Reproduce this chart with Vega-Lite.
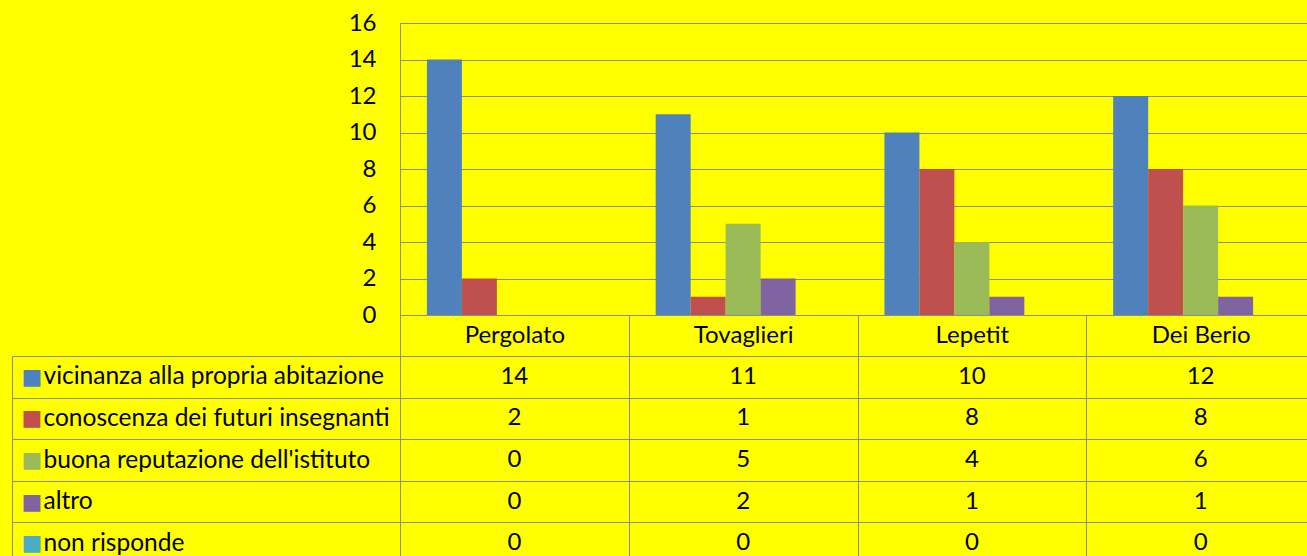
{
  "$schema": "https://vega.github.io/schema/vega-lite/v6.json",
  "background": "#FFFF00",
  "padding": {"left": 11, "top": 11, "right": 0, "bottom": 0},
  "config": {
    "view": {"stroke": null},
    "font": "Lato",
    "axis": {"labelFont": "Lato", "labelColor": "#000000", "labelFontSize": 24, "titleFontSize": 24}
  },
  "datasets": {
    "d": [
      {"school": "Pergolato", "series": "vicinanza alla propria abitazione", "value": 14},
      {"school": "Pergolato", "series": "conoscenza dei futuri insegnanti", "value": 2},
      {"school": "Pergolato", "series": "buona reputazione dell'istituto", "value": 0},
      {"school": "Pergolato", "series": "altro", "value": 0},
      {"school": "Pergolato", "series": "non risponde", "value": 0},
      {"school": "Tovaglieri", "series": "vicinanza alla propria abitazione", "value": 11},
      {"school": "Tovaglieri", "series": "conoscenza dei futuri insegnanti", "value": 1},
      {"school": "Tovaglieri", "series": "buona reputazione dell'istituto", "value": 5},
      {"school": "Tovaglieri", "series": "altro", "value": 2},
      {"school": "Tovaglieri", "series": "non risponde", "value": 0},
      {"school": "Lepetit", "series": "vicinanza alla propria abitazione", "value": 10},
      {"school": "Lepetit", "series": "conoscenza dei futuri insegnanti", "value": 8},
      {"school": "Lepetit", "series": "buona reputazione dell'istituto", "value": 4},
      {"school": "Lepetit", "series": "altro", "value": 1},
      {"school": "Lepetit", "series": "non risponde", "value": 0},
      {"school": "Dei Berio", "series": "vicinanza alla propria abitazione", "value": 12},
      {"school": "Dei Berio", "series": "conoscenza dei futuri insegnanti", "value": 8},
      {"school": "Dei Berio", "series": "buona reputazione dell'istituto", "value": 6},
      {"school": "Dei Berio", "series": "altro", "value": 1},
      {"school": "Dei Berio", "series": "non risponde", "value": 0}
    ]
  },
  "data": {"name": "d"},
  "columns": 2,
  "spacing": {"row": 41, "column": 0},
  "bounds": "flush",
  "concat": [
    {
      "width": 388,
      "height": 292,
      "mark": {"type": "point", "opacity": 0},
      "encoding": {}
    },
    {
      "width": 915,
      "height": 292,
      "mark": {"type": "bar"},
      "encoding": {
        "x": {
          "field": "school", "type": "nominal",
          "sort": ["Pergolato", "Tovaglieri", "Lepetit", "Dei Berio"],
          "scale": {"paddingInner": 0, "paddingOuter": 0},
          "axis": {
            "title": null, "labelAngle": 0, "domainColor": "#8C8C8C", "tickColor": "#8C8C8C",
            "tickSize": 41, "tickBand": "extent", "labelBaseline": "alphabetic", "labelPadding": -14
          }
        },
        "xOffset": {
          "field": "series", "type": "nominal",
          "sort": ["vicinanza alla propria abitazione", "conoscenza dei futuri insegnanti", "buona reputazione dell'istituto", "altro", "non risponde"],
          "scale": {"paddingInner": 0, "paddingOuter": 0.77}
        },
        "y": {
          "field": "value", "type": "quantitative",
          "scale": {"domain": [0, 16], "nice": false},
          "axis": {
            "title": null, "values": [0, 2, 4, 6, 8, 10, 12, 14, 16], "grid": true, "gridColor": "#8C8C8C",
            "ticks": false, "domainColor": "#8C8C8C", "labelPadding": 24, "labelFlush": false
          }
        },
        "color": {
          "field": "series", "type": "nominal",
          "scale": {
            "domain": ["vicinanza alla propria abitazione", "conoscenza dei futuri insegnanti", "buona reputazione dell'istituto", "altro", "non risponde"],
            "range": ["#4F81BD", "#C0504D", "#9BBB59", "#8064A2", "#4BACC6"]
          },
          "legend": null
        }
      }
    },
    {
      "width": 388,
      "height": 208,
      "mark": {"type": "text"},
      "encoding": {
        "y": {
          "field": "series", "type": "nominal",
          "sort": ["vicinanza alla propria abitazione", "conoscenza dei futuri insegnanti", "buona reputazione dell'istituto", "altro", "non risponde"],
          "scale": {"type": "band", "paddingInner": 0, "paddingOuter": 0},
          "axis": {
            "title": null, "domainColor": "#8C8C8C", "ticks": false, "grid": false,
            "labelExpr": "'■'", "labelFont": "DejaVu Sans", "labelFontSize": 22,
            "labelAlign": "left", "labelPadding": -9,
            "labelColor": {
              "condition": [
                {"test": "datum.value === 'vicinanza alla propria abitazione'", "value": "#4F81BD"},
                {"test": "datum.value === 'conoscenza dei futuri insegnanti'", "value": "#C0504D"},
                {"test": "datum.value === \"buona reputazione dell'istituto\"", "value": "#9BBB59"},
                {"test": "datum.value === 'altro'", "value": "#8064A2"}
              ],
              "value": "#4BACC6"
            }
          }
        },
        "text": {"value": ""}
      }
    },
    {
      "width": 915,
      "height": 208,
      "mark": {"type": "text", "fontSize": 24, "font": "Lato", "color": "#000000"},
      "encoding": {
        "x": {
          "field": "school", "type": "nominal",
          "sort": ["Pergolato", "Tovaglieri", "Lepetit", "Dei Berio"],
          "scale": {"type": "band", "paddingInner": 0, "paddingOuter": 0},
          "axis": {"orient": "top", "title": null, "labels": false, "ticks": false, "domain": false,
                   "grid": true, "gridColor": "#8C8C8C", "tickBand": "extent"}
        },
        "y": {
          "field": "series", "type": "nominal",
          "sort": ["vicinanza alla propria abitazione", "conoscenza dei futuri insegnanti", "buona reputazione dell'istituto", "altro", "non risponde"],
          "scale": {"type": "band", "paddingInner": 0, "paddingOuter": 0},
          "axis": {
            "title": null, "ticks": true, "tickSize": 388, "tickColor": "#8C8C8C",
            "domainColor": "#8C8C8C", "grid": true, "gridColor": "#8C8C8C",
            "tickBand": "extent", "labelAlign": "left", "labelPadding": -31, "labelLimit": 0,
            "labelFontSize": 24.5
          }
        },
        "text": {"field": "value", "type": "quantitative"}
      }
    }
  ]
}
